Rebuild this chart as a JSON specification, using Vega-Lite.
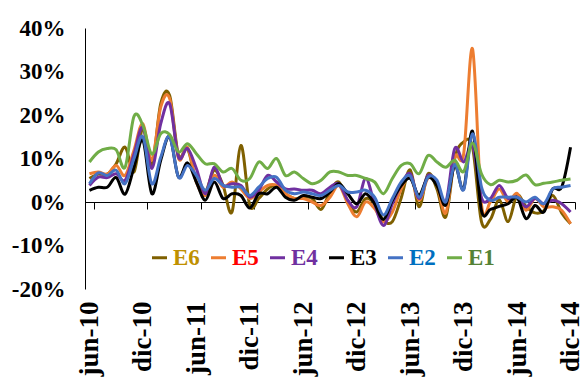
{
  "$schema": "https://vega.github.io/schema/vega-lite/v6.json",
  "width": 490,
  "height": 261,
  "autosize": "none",
  "padding": {"left": 85, "top": 28, "right": 6, "bottom": 95},
  "background": "white",
  "config": {"view": {"stroke": null}, "font": "Liberation Serif"},
  "data": {"values": [
    {"mes": "jun-10", "E6": 5.4, "E5": 6.5, "E4": 3.8, "E3": 2.7, "E2": 4.2, "E1": 9.2},
    {"mes": "jul-10", "E6": 6.4, "E5": 6.9, "E4": 5.7, "E3": 3.4, "E2": 6.7, "E1": 11.5},
    {"mes": "ago-10", "E6": 6.4, "E5": 6.4, "E4": 5.6, "E3": 3.4, "E2": 6.1, "E1": 12.3},
    {"mes": "sep-10", "E6": 8.8, "E5": 8.4, "E4": 6.5, "E3": 5.6, "E2": 7.3, "E1": 12},
    {"mes": "oct-10", "E6": 12.6, "E5": 6.1, "E4": 5, "E3": 1.8, "E2": 4.2, "E1": 8},
    {"mes": "nov-10", "E6": 6.9, "E5": 11.9, "E4": 11, "E3": 8, "E2": 10, "E1": 19.7},
    {"mes": "dic-10", "E6": 16.9, "E5": 18, "E4": 17.2, "E3": 14.2, "E2": 15, "E1": 17.6},
    {"mes": "ene-11", "E6": 8.4, "E5": 9.6, "E4": 7.7, "E3": 1.9, "E2": 4.2, "E1": 11},
    {"mes": "feb-11", "E6": 22.6, "E5": 21.8, "E4": 18, "E3": 9.6, "E2": 10.3, "E1": 15.7},
    {"mes": "mar-11", "E6": 24.5, "E5": 23.8, "E4": 22.6, "E3": 15, "E2": 15, "E1": 15.5},
    {"mes": "abr-11", "E6": 10.7, "E5": 10, "E4": 10.3, "E3": 5.7, "E2": 5.7, "E1": 11.5},
    {"mes": "may-11", "E6": 12.3, "E5": 12.6, "E4": 12.3, "E3": 9, "E2": 8.4, "E1": 13.4},
    {"mes": "jun-11", "E6": 4.6, "E5": 4.6, "E4": 7.7, "E3": 4.6, "E2": 6.1, "E1": 11.1},
    {"mes": "jul-11", "E6": 2.3, "E5": 1.5, "E4": 1.9, "E3": 0.4, "E2": 2.7, "E1": 8.8},
    {"mes": "ago-11", "E6": 7.3, "E5": 6.1, "E4": 8, "E3": 4.6, "E2": 5.4, "E1": 8.8},
    {"mes": "sep-11", "E6": 3.8, "E5": 3.4, "E4": 3.8, "E3": 0.8, "E2": 3.8, "E1": 6.9},
    {"mes": "oct-11", "E6": -2.3, "E5": 4.6, "E4": 4.2, "E3": 1.9, "E2": 3.4, "E1": 7.7},
    {"mes": "nov-11", "E6": 13, "E5": 3, "E4": 3.8, "E3": 1.5, "E2": 3.4, "E1": 5},
    {"mes": "dic-11", "E6": -0.8, "E5": 0.8, "E4": 1.1, "E3": -1.4, "E2": 1.5, "E1": 5.4},
    {"mes": "ene-12", "E6": 0.8, "E5": 2.3, "E4": 2.7, "E3": 1.9, "E2": 3.4, "E1": 9.2},
    {"mes": "feb-12", "E6": 3, "E5": 3.8, "E4": 6.1, "E3": 1.9, "E2": 5.4, "E1": 7.7},
    {"mes": "mar-12", "E6": 3.8, "E5": 3.8, "E4": 4.6, "E3": 3.4, "E2": 5.7, "E1": 10},
    {"mes": "abr-12", "E6": 1.9, "E5": 1.9, "E4": 3, "E3": 1.1, "E2": 2.7, "E1": 6.1},
    {"mes": "may-12", "E6": 0.8, "E5": 0.8, "E4": 3, "E3": 0.4, "E2": 1.9, "E1": 6.9},
    {"mes": "jun-12", "E6": 1.1, "E5": 0.8, "E4": 2.7, "E3": 1.5, "E2": 2.3, "E1": 5.4},
    {"mes": "jul-12", "E6": 0.8, "E5": 0, "E4": 2.7, "E3": 1.1, "E2": 1.9, "E1": 4.2},
    {"mes": "ago-12", "E6": -1.7, "E5": -0.8, "E4": 1.9, "E3": 0.8, "E2": 1.5, "E1": 5},
    {"mes": "sep-12", "E6": 2.3, "E5": 1.1, "E4": 3.4, "E3": 2.3, "E2": 2.7, "E1": 6.9},
    {"mes": "oct-12", "E6": 4.6, "E5": 3.8, "E4": 4.2, "E3": 4.2, "E2": 3.8, "E1": 6.9},
    {"mes": "nov-12", "E6": 0, "E5": -0.4, "E4": 0.4, "E3": 1.9, "E2": 2.3, "E1": 6.1},
    {"mes": "dic-12", "E6": -2.3, "E5": -3.4, "E4": -1.1, "E3": -0.4, "E2": 2.3, "E1": 6.1},
    {"mes": "ene-13", "E6": 0.8, "E5": 0, "E4": 5.4, "E3": 1.9, "E2": 2.7, "E1": 5.4},
    {"mes": "feb-13", "E6": -0.4, "E5": -1.5, "E4": -0.4, "E3": -0.4, "E2": 1.1, "E1": 4.6},
    {"mes": "mar-13", "E6": -4.2, "E5": -4.6, "E4": -5.4, "E3": -4, "E2": -3, "E1": 1.9},
    {"mes": "abr-13", "E6": -4.5, "E5": -2.3, "E4": -0.4, "E3": 0.4, "E2": 0.8, "E1": 5.4},
    {"mes": "may-13", "E6": 1, "E5": 3, "E4": 4, "E3": 3.8, "E2": 4.6, "E1": 8.4},
    {"mes": "jun-13", "E6": 7.4, "E5": 6, "E4": 6.5, "E3": 5.4, "E2": 6, "E1": 8.8},
    {"mes": "jul-13", "E6": -1.1, "E5": 0.4, "E4": 0.8, "E3": 1.6, "E2": 1.1, "E1": 6.5},
    {"mes": "ago-13", "E6": 6.5, "E5": 5.5, "E4": 6.1, "E3": 5.7, "E2": 5.7, "E1": 10.7},
    {"mes": "sep-13", "E6": 3, "E5": 4, "E4": 4.2, "E3": 3.8, "E2": 5, "E1": 9.2},
    {"mes": "oct-13", "E6": -3.4, "E5": -2.5, "E4": 0, "E3": -0.7, "E2": 0, "E1": 8},
    {"mes": "nov-13", "E6": 10, "E5": 10.3, "E4": 12.3, "E3": 8.4, "E2": 8.7, "E1": 9.6},
    {"mes": "dic-13", "E6": 13.8, "E5": 11, "E4": 9.2, "E3": 3, "E2": 2.8, "E1": 7},
    {"mes": "ene-14", "E6": 12.6, "E5": 35.2, "E4": 13, "E3": 16.3, "E2": 15.7, "E1": 13.5},
    {"mes": "feb-14", "E6": -4.5, "E5": -0.5, "E4": 1, "E3": -2, "E2": 3.5, "E1": 6.5},
    {"mes": "mar-14", "E6": -4, "E5": 0, "E4": 0.8, "E3": -1.7, "E2": 0.4, "E1": 4},
    {"mes": "abr-14", "E6": 0.5, "E5": 3, "E4": 3.8, "E3": -1, "E2": 1.1, "E1": 5},
    {"mes": "may-14", "E6": -4.5, "E5": 0, "E4": 0.8, "E3": -0.4, "E2": 1.1, "E1": 4.6},
    {"mes": "jun-14", "E6": 1.5, "E5": 2, "E4": 1.1, "E3": 1, "E2": 1.1, "E1": 5},
    {"mes": "jul-14", "E6": -1, "E5": -1.9, "E4": -1.1, "E3": -3.8, "E2": 0, "E1": 6.2},
    {"mes": "ago-14", "E6": -2.5, "E5": 0.8, "E4": 0.8, "E3": -0.8, "E2": 1.1, "E1": 4},
    {"mes": "sep-14", "E6": -2, "E5": -1.1, "E4": -0.4, "E3": -2.3, "E2": -0.4, "E1": 4.3},
    {"mes": "oct-14", "E6": 1.5, "E5": -1.1, "E4": 0.4, "E3": 3, "E2": 3, "E1": 4.6},
    {"mes": "nov-14", "E6": -2.5, "E5": -1.9, "E4": -0.4, "E3": 3.4, "E2": 3.4, "E1": 5},
    {"mes": "dic-14", "E6": -5, "E5": -5, "E4": -2.3, "E3": 12.6, "E2": 3.8, "E1": 5.3}
  ]},
  "transform": [{"fold": ["E6", "E5", "E4", "E3", "E2", "E1"], "as": ["serie", "valor"]}],
  "mark": {"type": "line", "interpolate": "cardinal", "strokeWidth": 3},
  "encoding": {
    "x": {
      "field": "mes", "type": "ordinal", "sort": null, "bandPosition": 0.5,
      "scale": {"type": "band", "paddingInner": 0, "paddingOuter": 0},
      "axis": {
        "title": null,
        "values": ["jun-10", "dic-10", "jun-11", "dic-11", "jun-12", "dic-12", "jun-13", "dic-13", "jun-14", "dic-14"],
        "tickBand": "extent", "offset": -87, "tickSize": 7, "tickColor": "black", "tickWidth": 1,
        "domainColor": "black", "domainWidth": 1, "grid": false,
        "labelAngle": -90, "labelAlign": "right", "labelBaseline": "middle",
        "labelFont": "Liberation Serif", "labelFontSize": 27, "labelFontWeight": "bold", "labelColor": "black",
        "labelPadding": 92, "labelOverlap": false
      }
    },
    "y": {
      "field": "valor", "type": "quantitative",
      "scale": {"domain": [-20, 40], "nice": false, "zero": false},
      "axis": {
        "title": null, "values": [-20, -10, 0, 10, 20, 30, 40],
        "labelExpr": "datum.value + '%'",
        "ticks": false, "grid": false, "domainColor": "black", "domainWidth": 1,
        "labelFont": "Liberation Serif", "labelFontSize": 23, "labelFontWeight": "bold", "labelColor": "black",
        "labelPadding": 20
      }
    },
    "color": {
      "field": "serie", "type": "nominal",
      "scale": {"domain": ["E6", "E5", "E4", "E3", "E2", "E1"], "range": ["#7F6000", "#ED7D31", "#7030A0", "#000000", "#4472C4", "#70AD47"]},
      "legend": {
        "title": null, "orient": "none", "legendX": 63, "legendY": 218,
        "direction": "horizontal", "columns": 6,
        "symbolType": "stroke", "symbolStrokeWidth": 3, "symbolSize": 225,
        "labelFont": "Liberation Serif", "labelFontSize": 23, "labelFontWeight": "bold",
        "labelColor": {"expr": "datum.label == 'E6' ? '#BF9000' : datum.label == 'E5' ? '#FF0000' : datum.label == 'E4' ? '#7030A0' : datum.label == 'E3' ? '#000000' : datum.label == 'E2' ? '#0070C0' : '#548235'"},
        "labelOffset": 2, "columnPadding": 5
      }
    }
  }
}
